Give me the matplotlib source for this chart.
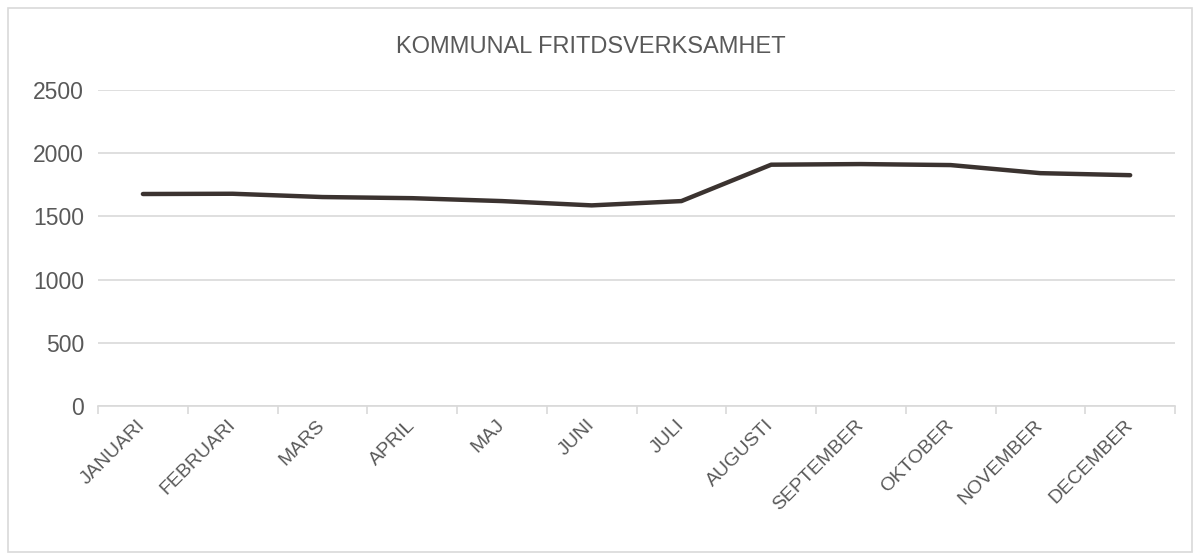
import matplotlib
matplotlib.use("Agg")
import matplotlib.pyplot as plt
from matplotlib.patches import Rectangle

months = ["JANUARI", "FEBRUARI", "MARS", "APRIL", "MAJ", "JUNI",
          "JULI", "AUGUSTI", "SEPTEMBER", "OKTOBER", "NOVEMBER", "DECEMBER"]
values = [1678, 1680, 1654, 1645, 1622, 1588, 1622, 1910, 1915, 1907, 1843, 1827]
yticks = [0, 500, 1000, 1500, 2000, 2500]

plt.rcParams["font.family"] = ["Liberation Sans", "DejaVu Sans"]
text_col = "#595959"
grid_col = "#d9d9d9"

fig = plt.figure(figsize=(12, 5.6), dpi=100)
fig.patches.append(Rectangle((0.007, 0.014), 0.986, 0.972, transform=fig.transFigure,
                             fill=False, edgecolor=grid_col, linewidth=1.2))
ax = fig.add_axes([0.0817, 0.275, 0.8975, 0.564])

x = list(range(len(months)))
ax.plot(x, values, color="#3b3330", linewidth=3.2, solid_capstyle="round",
        solid_joinstyle="round", zorder=3)

ax.set_xlim(-0.5, len(months) - 0.5)
ax.set_ylim(0, 2500)
ax.set_yticks(yticks)
ax.set_yticklabels([str(v) for v in yticks], fontsize=16.5, color=text_col)
ax.grid(axis="y", color=grid_col, linewidth=1.2)
ax.set_axisbelow(True)

ax.set_xticks([i - 0.5 for i in range(len(months) + 1)], minor=False)
ax.set_xticklabels([])
ax.set_xticks(x, minor=True)
ax.set_xticklabels(months, minor=True, rotation=45, ha="right", va="center",
                   rotation_mode="anchor", fontsize=14, color=text_col)
ax.tick_params(axis="x", which="major", length=6, color=grid_col, width=1.2)
ax.tick_params(axis="x", which="minor", length=0, pad=12)
ax.tick_params(axis="y", length=0, pad=10)

for s in ["top", "right", "left"]:
    ax.spines[s].set_visible(False)
ax.spines["bottom"].set_color(grid_col)
ax.spines["bottom"].set_linewidth(1.2)

fig.text(0.492, 0.916, "KOMMUNAL FRITDSVERKSAMHET", ha="center", va="center",
         fontsize=17, color=text_col)

fig.savefig("out.png", dpi=100)
